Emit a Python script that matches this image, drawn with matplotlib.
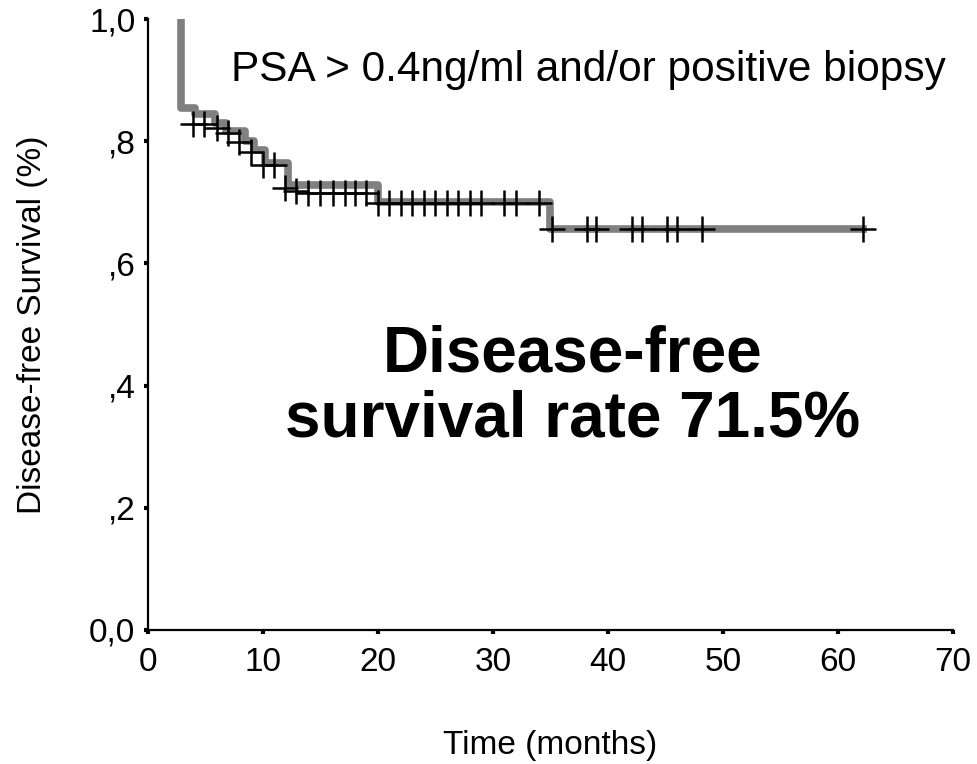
import matplotlib.pyplot as plt

plt.rcParams['font.family'] = ['Liberation Sans', 'DejaVu Sans']

# Kaplan-Meier step curve (gray)
step_times = [2.9, 2.9, 4.1, 5.8, 6.8, 8.4, 9.2, 10.2, 12.2, 20.0, 35.0, 62.2]
step_surv = [1.0, 0.855, 0.845, 0.830, 0.816, 0.800, 0.786, 0.765, 0.728, 0.700, 0.656, 0.656]

# censored observations (black crosses)
cens_times = [3.9, 4.9, 6.0, 7.0, 7.9, 9.0, 10.0, 11.0, 11.9, 12.9,
              13.9, 15.0, 16.1, 17.1, 18.0, 19.0,
              20.0, 21.0, 22.0, 23.0, 24.0, 25.0, 26.0, 27.0, 28.0, 29.0, 31.0, 32.0, 34.0,
              35.1, 38.2, 39.0, 42.1, 43.0, 45.1, 46.0, 48.2, 62.2]
cens_surv = [0.828, 0.828, 0.822, 0.813, 0.799, 0.782, 0.761, 0.761, 0.723, 0.718,
             0.715, 0.715, 0.715, 0.715, 0.715, 0.715,
             0.699, 0.699, 0.699, 0.699, 0.699, 0.699, 0.699, 0.699, 0.699, 0.699, 0.699, 0.699, 0.699,
             0.656, 0.656, 0.656, 0.656, 0.656, 0.656, 0.656, 0.656, 0.656]

yticks = [0.0, 0.2, 0.4, 0.6, 0.8, 1.0]
ytick_labels = ['0,0', ',2', ',4', ',6', ',8', '1,0']
xticks = [0, 10, 20, 30, 40, 50, 60, 70]

fig = plt.figure(figsize=(9.78, 7.64), dpi=100)
ax = fig.add_axes([0.1513, 0.1754, 0.8231, 0.7997])

ax.step(step_times, step_surv, where='post', color='#808080', lw=5.5, zorder=2)
ax.plot(cens_times, cens_surv, ls='none', marker='+', ms=19, mew=1.8, color='black', zorder=3)

ax.set_xlim(0, 70)
ax.set_ylim(0, 1.0)
ax.set_xticks(xticks)
ax.set_yticks(yticks)
ax.set_yticklabels(ytick_labels)
ax.spines['top'].set_visible(False)
ax.spines['right'].set_visible(False)
for s in ['left', 'bottom']:
    ax.spines[s].set_linewidth(1.6)
ax.tick_params(direction='out', length=3, width=3, labelsize=24)
ax.tick_params(axis='x', pad=9)
ax.tick_params(axis='y', pad=6)

ax.set_xlabel('Time (months)', fontsize=24, labelpad=38)
ax.set_ylabel('Disease-free Survival (%)', fontsize=24, labelpad=30)

ax.text(0.547, 0.917, 'PSA > 0.4ng/ml and/or positive biopsy', transform=ax.transAxes,
        fontsize=30.5, ha='center', va='center')
ax.text(0.527, 0.398, 'Disease-free\nsurvival rate 71.5%', transform=ax.transAxes,
        fontsize=46, fontweight='bold', ha='center', va='center', linespacing=1.12)

fig.savefig('out.png', dpi=100)
